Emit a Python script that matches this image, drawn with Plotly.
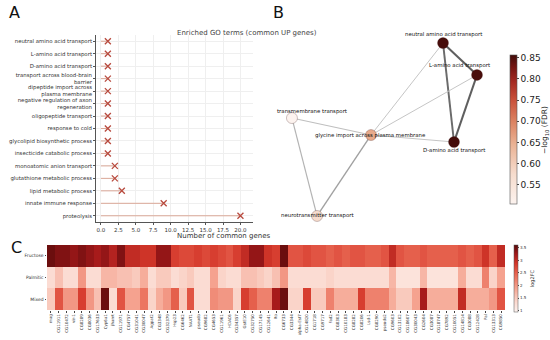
import plotly.graph_objects as go

W, H = 550, 340
FONT = "DejaVu Sans"

# ---------------- Panel A data ----------------
go_terms = ["neutral amino acid transport", "L-amino acid transport", "D-amino acid transport",
            "transport across blood-brain<br>barrier", "dipeptide import across<br>plasma membrane",
            "negative regulation of axon<br>regeneration", "oligopeptide transport", "response to cold",
            "glycolipid biosynthetic process", "insecticide catabolic process",
            "monoatomic anion transport", "glutathione metabolic process", "lipid metabolic process",
            "innate immune response", "proteolysis"]
common_genes = [1, 1, 1, 1, 1, 1, 1, 1, 1, 1, 2, 2, 3, 9, 20]
a_xticks = [0.0, 2.5, 5.0, 7.5, 10.0, 12.5, 15.0, 17.5, 20.0]

# ---------------- Panel B data ----------------
node_names = ["neutral amino acid transport", "L-amino acid transport", "D-amino acid transport",
              "glycine import across plasma membrane", "transmembrane transport",
              "neurotransmitter transport"]
node_x = [0.555, 0.88, 0.66, -0.134, -0.89, -0.65]
node_y = [0.859, 0.524, -0.178, -0.105, 0.073, -0.953]
node_fdr = [0.853, 0.852, 0.855, 0.655, 0.505, 0.575]
edge_src = [0, 0, 1, 0, 1, 3, 4, 4, 3]
edge_dst = [1, 2, 2, 3, 3, 2, 3, 5, 5]
edge_w = [1.0, 0.9, 1.0, 0.15, 0.15, 0.15, 0.2, 0.3, 0.45]
b_ticks = [0.55, 0.60, 0.65, 0.70, 0.75, 0.80, 0.85]

# ---------------- Panel C data ----------------
genes = ["mag", "CG11911", "CG10472", "vir-1", "CG8289", "CG8036", "CG17633", "Cyp6a1", "jhamt",
         "CG11971", "CG4757", "CG31041", "CG30047", "Agpat2", "CG3348", "CG32379", "Hsp23", "CG6462",
         "NAAT1", "pseudo", "CG9682", "CG4653", "CG11961", "HDAC6", "CG34357", "GstE10", "CG32750",
         "CG17145", "CG12641", "Ito", "CG6733", "CG3344", "alpha-Est7", "CG14820", "CG1718", "CG9717",
         "Fad2", "CG8303", "CG10183", "CG8282", "CG8206", "Lsd-1", "CG8290", "pseudo2", "CG9603",
         "CG13102", "CG18607", "CG30043", "CG2604", "CG3087", "CG18747", "CG7892", "CG10051",
         "CG14814", "CG3088", "CG12428", "Pal", "CG13313", "CG9850"]
conditions = ["Fructose", "Palmitic", "Mixed"]
fructose = [3.5, 3.4, 3.4, 3.3, 3.4, 3.3, 3.2, 3.3, 3.1, 3.4, 3.0, 3.0, 2.9, 2.9, 3.3, 3.3, 2.8, 2.7, 2.7, 2.8,
            2.7, 2.8, 2.7, 2.6, 2.8, 3.0, 3.3, 3.3, 2.9, 2.8, 3.5, 2.6, 2.6, 2.7, 2.6, 2.6, 2.5, 2.6, 2.5, 2.6,
            2.6, 2.5, 2.5, 2.6, 3.0, 2.6, 2.5, 2.5, 2.6, 2.5, 2.5, 2.5, 2.5, 2.6, 2.5, 2.6, 2.9, 2.5, 3.0]
palmitic = [1.3, 1.6, 1.3, 1.3, 2.0, 1.3, 1.3, 1.7, 1.7, 1.6, 1.6, 1.5, 1.8, 1.3, 1.5, 1.5, 1.3, 1.4, 1.5, 1.3,
            1.3, 1.9, 1.4, 1.3, 1.3, 1.6, 1.6, 1.5, 1.4, 1.6, 2.0, 1.3, 1.3, 1.3, 1.3, 1.3, 1.4, 1.3, 1.3, 1.3,
            1.3, 1.3, 1.3, 1.3, 1.7, 1.2, 1.2, 1.2, 1.7, 1.2, 1.2, 1.2, 1.2, 1.8, 1.3, 1.3, 2.2, 1.4, 1.9]
mixed = [1.5, 2.6, 2.0, 2.0, 2.8, 2.0, 1.6, 3.5, 1.3, 2.6, 1.9, 1.9, 2.3, 1.4, 1.8, 2.0, 2.5, 1.5, 2.6, 1.3,
         1.3, 2.1, 2.0, 2.0, 1.4, 2.8, 2.5, 2.2, 2.2, 3.2, 3.5, 1.4, 1.4, 2.8, 1.5, 1.5, 2.2, 1.8, 1.8, 1.8,
         2.8, 2.2, 2.2, 2.2, 1.8, 1.5, 1.5, 1.9, 3.2, 1.8, 1.8, 1.8, 1.8, 3.0, 1.8, 1.8, 1.8, 2.0, 2.6]
c_ticks = [1.0, 1.5, 2.0, 2.5, 3.0, 3.5]


def px(x):
    return x / W


def py(y):
    return 1 - y / H


reds_b = [[0.0, "#fcf3ef"], [0.2, "#f6dccd"], [0.4, "#eab294"], [0.55, "#dc8463"],
          [0.7, "#c9503a"], [0.82, "#a52a22"], [0.92, "#741512"], [1.0, "#420c0a"]]
reds_c = [[0.0, "#fdf3f0"], [0.15, "#fbd9cf"], [0.35, "#f5a592"], [0.55, "#ea6a55"],
          [0.72, "#d4372a"], [0.86, "#a3191a"], [1.0, "#560a0a"]]

fig = go.Figure()

# ---------- Panel A ----------
ys = list(range(len(go_terms)))
lx, ly = [], []
for i, v in enumerate(common_genes):
    lx += [0, v, None]
    ly += [i, i, None]
fig.add_trace(go.Scatter(x=lx, y=ly, mode="lines", line=dict(color="#dba898", width=1),
                         showlegend=False, hoverinfo="skip", xaxis="x", yaxis="y"))
fig.add_trace(go.Scatter(x=common_genes, y=ys, mode="markers",
                         marker=dict(symbol="x-thin", size=6, line=dict(color="#b84a3e", width=1.3)),
                         showlegend=False, xaxis="x", yaxis="y"))

# ---------- Panel B ----------
for s, d, w in zip(edge_src, edge_dst, edge_w):
    g = int(215 - 120 * w)
    fig.add_trace(go.Scatter(x=[node_x[s], node_x[d]], y=[node_y[s], node_y[d]], mode="lines",
                             line=dict(color=f"rgb({g},{g},{g})", width=0.8 + 1.3 * w),
                             showlegend=False, hoverinfo="skip", xaxis="x2", yaxis="y2"))
fig.add_trace(go.Scatter(
    x=node_x, y=node_y, mode="markers", text=node_names, showlegend=False,
    marker=dict(size=11, color=node_fdr, colorscale=reds_b, cmin=0.505, cmax=0.856,
                line=dict(color="rgba(60,20,20,0.5)", width=0.5),
                colorbar=dict(x=px(510), xanchor="left", y=py(129.5), yanchor="middle",
                              len=149 / H, lenmode="fraction", thickness=7, xpad=0, ypad=0,
                              outlinewidth=0.6, outlinecolor="#555", tickvals=b_ticks,
                              ticktext=[f"{t:.2f}" for t in b_ticks], ticks="outside", ticklen=2,
                              tickfont=dict(size=9, family=FONT, color="#222"))),
    xaxis="x2", yaxis="y2"))

# ---------- Panel C ----------
fig.add_trace(go.Heatmap(
    z=[fructose, palmitic, mixed], x=list(range(len(genes))), y=[0, 1, 2],
    colorscale=reds_c, zmin=0.95, zmax=3.6, xgap=0, ygap=0,
    colorbar=dict(x=px(514), xanchor="left", y=py(278.5), yanchor="middle", len=67 / H,
                  thickness=4, xpad=0, ypad=0, outlinewidth=0.5, outlinecolor="#555",
                  tickvals=c_ticks, ticks="outside", ticklen=1.5,
                  tickfont=dict(size=4, family=FONT, color="#333"),
                  title=dict(text="log2FC", side="right", font=dict(size=5, family=FONT, color="#333"))),
    xaxis="x3", yaxis="y3"))

annotations = [
    dict(text="A", x=px(7), y=py(13), xref="paper", yref="paper", showarrow=False,
         xanchor="left", yanchor="middle", font=dict(size=16, family=FONT, color="#111")),
    dict(text="B", x=px(271), y=py(13), xref="paper", yref="paper", showarrow=False,
         xanchor="left", yanchor="middle", font=dict(size=16, family=FONT, color="#111")),
    dict(text="C", x=px(9), y=py(247), xref="paper", yref="paper", showarrow=False,
         xanchor="left", yanchor="middle", font=dict(size=16, family=FONT, color="#111")),
    dict(text="Enriched GO terms (common UP genes)", x=px(175), y=py(27), xref="paper", yref="paper",
         showarrow=False, font=dict(size=7, family=FONT, color="#444")),
    dict(text="Number of common genes", x=px(175), y=py(236), xref="paper", yref="paper",
         showarrow=False, yanchor="middle", font=dict(size=7, family=FONT, color="#333")),
    dict(text="−log<sub>10</sub> (FDR)", x=px(545), y=py(130), xref="paper", yref="paper",
         showarrow=False, textangle=-90, xanchor="center", yanchor="middle",
         font=dict(size=7.5, family=FONT, color="#222")),
]
label_shift = [(0, 9), (-18, 9), (0, -9), (0, 0), (20, 7), (0, 0)]
for i, name in enumerate(node_names):
    annotations.append(dict(text=name, x=node_x[i], y=node_y[i], xref="x2", yref="y2",
                            showarrow=False, xshift=label_shift[i][0], yshift=label_shift[i][1],
                            font=dict(size=5.4, family=FONT, color="#111")))

fig.update_layout(
    width=W, height=H, margin=dict(l=0, r=0, t=0, b=0, autoexpand=False),
    paper_bgcolor="white", plot_bgcolor="white",
    font=dict(family=FONT),
    annotations=annotations,
    xaxis=dict(domain=[px(96), px(253)], range=[-0.7, 21.8], tickvals=a_xticks,
               ticktext=[f"{t:.1f}" for t in a_xticks], tickfont=dict(size=5.5, color="#333"),
               ticks="outside", ticklen=2, tickcolor="#555", showline=True, linecolor="#555",
               linewidth=0.8, showgrid=True, gridcolor="#efefef", gridwidth=0.6,
               zeroline=False, anchor="y", automargin=False),
    yaxis=dict(domain=[py(222), py(35)], range=[14.5, -0.5], tickvals=ys, ticktext=go_terms,
               tickfont=dict(size=5.4, color="#333"), ticks="outside", ticklen=2, tickcolor="#555",
               showline=True, linecolor="#555", linewidth=0.8, showgrid=True, gridcolor="#efefef",
               gridwidth=0.6, zeroline=False, anchor="x", automargin=False),
    xaxis2=dict(domain=[px(270), px(500)], range=[-1.1, 1.1], visible=False, anchor="y2"),
    yaxis2=dict(domain=[py(230), py(20)], range=[-1.1, 1.1], visible=False, anchor="x2"),
    xaxis3=dict(domain=[px(47), px(505)], range=[-0.5, len(genes) - 0.5],
                tickvals=list(range(len(genes))), ticktext=genes, tickangle=-90,
                tickfont=dict(size=4, color="#333"), ticks="outside", ticklen=1.5,
                showgrid=False, zeroline=False, anchor="y3", automargin=False),
    yaxis3=dict(domain=[py(310), py(245)], range=[2.5, -0.5], tickvals=[0, 1, 2],
                ticktext=conditions, tickfont=dict(size=4.5, color="#333"), ticks="outside",
                ticklen=1.5, showgrid=False, zeroline=False, anchor="x3", automargin=False),
)

fig.write_html("out.html", config={"displayModeBar": False},
               post_script="document.body.style.margin='0';document.body.style.padding='0';")
